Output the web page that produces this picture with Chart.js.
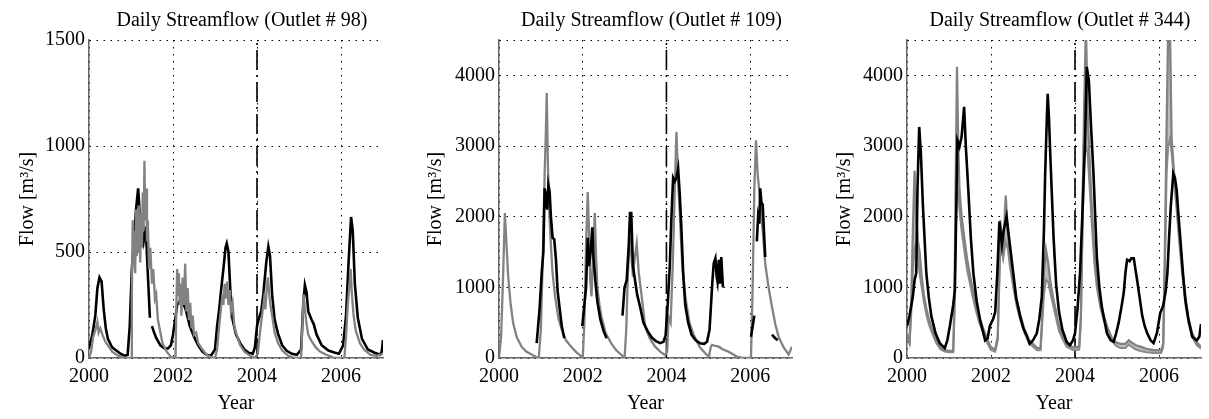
<!DOCTYPE html>
<html>
<head>
<meta charset="utf-8">
<script src="https://cdn.jsdelivr.net/npm/chart.js@4.4.1/dist/chart.umd.min.js"></script>
<style>
  body { margin: 0; background: #fff; }
  #wrap { position: relative; width: 1209px; height: 419px; }
  canvas { position: absolute; top: 0; }
</style>
</head>
<body>
<div id="wrap">
  <canvas id="c98" width="400" height="419" style="left:0px"></canvas>
  <canvas id="c109" width="400" height="419" style="left:400px"></canvas>
  <canvas id="c344" width="409" height="419" style="left:800px"></canvas>
</div>
<script>
// ---- data: [decimal year, flow m3/s], null = gap in record ----
const xTicks = [2000, 2002, 2004, 2006];
const yTicks98 = [0, 500, 1000, 1500];
const yTicks109 = [0, 1000, 2000, 3000, 4000];
const yTicks344 = [0, 1000, 2000, 3000, 4000];
const splitYear = 2004;   // calibration / validation split

// Outlet 98 - observed (black)
const obs98 = [[2000.00,45],[2000.08,110],[2000.15,200],[2000.20,330],[2000.25,380],[2000.30,360],[2000.35,230],
  [2000.40,140],[2000.45,90],[2000.55,50],[2000.65,35],[2000.75,20],[2000.85,10],[2000.92,15],[2000.97,150],
  [2001.02,420],[2001.07,550],[2001.12,700],[2001.17,800],[2001.22,650],[2001.30,550],[2001.35,620],[2001.40,400],
  [2001.45,190],[2001.47,null],[2001.50,150],[2001.55,120],[2001.60,95],[2001.70,60],[2001.80,45],[2001.88,45],
  [2001.95,60],[2002.00,110],[2002.05,180],[2002.10,250],[2002.20,280],[2002.30,230],[2002.40,150],[2002.50,100],
  [2002.60,60],[2002.70,30],[2002.80,15],[2002.90,10],[2003.00,40],[2003.05,150],[2003.10,230],[2003.15,330],
  [2003.20,420],[2003.25,520],[2003.28,540],[2003.32,500],[2003.37,300],[2003.42,180],[2003.50,110],[2003.60,70],
  [2003.70,40],[2003.80,25],[2003.90,20],[2003.95,50],[2004.00,150],[2004.05,190],[2004.10,220],[2004.15,300],
  [2004.22,450],[2004.27,525],[2004.31,480],[2004.36,300],[2004.42,180],[2004.50,115],[2004.60,60],[2004.70,35],
  [2004.83,20],[2004.95,15],[2005.05,40],[2005.10,250],[2005.14,344],[2005.18,310],[2005.22,220],[2005.30,180],
  [2005.35,160],[2005.42,110],[2005.54,60],[2005.70,35],[2005.86,25],[2005.95,20],[2006.05,60],[2006.12,200],
  [2006.18,450],[2006.24,665],[2006.28,600],[2006.33,350],[2006.40,190],[2006.50,90],[2006.64,40],[2006.80,25],
  [2006.93,15],[2006.97,30],[2007.00,85]];

// Outlet 98 - simulated (gray)
const sim98 = [[2000.00,0],[2000.05,30],[2000.10,100],[2000.15,130],[2000.20,170],[2000.23,120],[2000.27,140],
  [2000.32,110],[2000.38,80],[2000.45,60],[2000.55,30],[2000.70,10],[2000.85,2],[2001.00,0],[2001.02,300],
  [2001.04,650],[2001.06,450],[2001.08,600],[2001.10,400],[2001.12,700],[2001.14,480],[2001.16,650],[2001.18,500],
  [2001.20,720],[2001.22,450],[2001.24,680],[2001.26,520],[2001.28,780],[2001.30,600],[2001.32,930],[2001.34,650],
  [2001.36,800],[2001.38,550],[2001.40,650],[2001.43,420],[2001.46,520],[2001.50,350],[2001.53,420],[2001.57,280],
  [2001.60,300],[2001.64,180],[2001.70,120],[2001.75,70],[2001.85,30],[2001.95,5],[2002.06,0],[2002.08,250],
  [2002.10,420],[2002.12,300],[2002.14,400],[2002.16,250],[2002.18,350],[2002.20,200],[2002.23,380],[2002.26,250],
  [2002.29,445],[2002.32,220],[2002.35,330],[2002.38,180],[2002.41,260],[2002.44,140],[2002.47,200],[2002.50,110],
  [2002.55,120],[2002.60,70],[2002.70,40],[2002.80,15],[2002.90,5],[2003.00,0],[2003.05,40],[2003.10,150],
  [2003.14,230],[2003.18,300],[2003.20,250],[2003.23,350],[2003.26,280],[2003.29,360],[2003.32,250],[2003.35,320],
  [2003.38,220],[2003.42,260],[2003.46,150],[2003.50,120],[2003.60,60],[2003.70,30],[2003.80,15],[2003.95,0],
  [2004.02,20],[2004.07,120],[2004.12,200],[2004.17,280],[2004.20,230],[2004.23,330],[2004.26,380],[2004.29,300],
  [2004.32,250],[2004.36,200],[2004.42,120],[2004.50,70],[2004.60,35],[2004.75,10],[2004.90,0],[2005.05,0],
  [2005.08,150],[2005.11,300],[2005.14,230],[2005.18,160],[2005.22,110],[2005.30,80],[2005.40,50],[2005.50,30],
  [2005.65,15],[2005.85,0],[2006.08,0],[2006.12,100],[2006.16,250],[2006.20,340],[2006.23,420],[2006.26,300],
  [2006.30,200],[2006.35,130],[2006.45,70],[2006.55,40],[2006.70,15],[2006.85,10],[2007.00,20]];

// Outlet 109 - observed (black, gappy)
const obs109 = [[2000.90,210],[2000.97,700],[2001.02,1200],[2001.06,1500],[2001.09,2400],[2001.12,2300],[2001.15,2100],
  [2001.18,2450],[2001.21,2350],[2001.24,2000],[2001.28,1700],[2001.32,1680],[2001.36,1400],[2001.40,950],[2001.45,700],
  [2001.50,450],[2001.56,280],[2001.70,null],[2001.99,450],[2002.03,700],[2002.08,1000],[2002.12,1700],[2002.15,1300],
  [2002.19,1500],[2002.23,1850],[2002.26,1400],[2002.30,1100],[2002.35,800],[2002.42,550],[2002.50,380],[2002.57,280],
  [2002.80,null],[2002.95,600],[2003.00,1000],[2003.05,1100],[2003.10,1600],[2003.13,2050],[2003.16,2050],[2003.20,1300],
  [2003.25,1100],[2003.30,900],[2003.38,700],[2003.45,500],[2003.55,380],[2003.65,290],[2003.75,240],[2003.85,210],
  [2003.93,230],[2003.98,320],[2004.03,750],[2004.08,1300],[2004.12,2000],[2004.16,2550],[2004.20,2500],[2004.24,2550],
  [2004.28,2680],[2004.32,2300],[2004.36,1800],[2004.40,1200],[2004.45,750],[2004.52,500],[2004.60,330],[2004.70,250],
  [2004.80,210],[2004.90,200],[2004.97,230],[2005.03,400],[2005.07,800],[2005.10,1100],[2005.13,1340],[2005.17,1410],
  [2005.20,1150],[2005.22,1080],[2005.25,1390],[2005.28,1050],[2005.31,1430],[2005.35,1000],[2005.60,null],
  [2006.02,300],[2006.06,450],[2006.10,600],[2006.13,null],[2006.16,1650],[2006.19,2000],[2006.22,1900],[2006.24,2400],
  [2006.27,2200],[2006.30,2170],[2006.33,1800],[2006.36,1430],[2006.45,null],[2006.52,330],[2006.60,280],[2006.66,250]];

// Outlet 109 - simulated (gray)
const sim109 = [[2000.00,0],[2000.05,300],[2000.10,1200],[2000.14,2050],[2000.18,1600],[2000.22,1150],[2000.28,750],
  [2000.34,490],[2000.42,300],[2000.54,160],[2000.65,90],[2000.78,50],[2000.90,10],[2000.95,0],[2001.00,400],
  [2001.05,1500],[2001.09,2600],[2001.12,3200],[2001.14,3750],[2001.17,2700],[2001.20,2100],[2001.23,1700],
  [2001.28,1200],[2001.34,870],[2001.42,560],[2001.50,400],[2001.60,250],[2001.74,150],[2001.85,80],[2001.95,30],
  [2002.00,0],[2002.04,500],[2002.08,1600],[2002.12,2350],[2002.15,1800],[2002.18,1100],[2002.21,870],[2002.25,1500],
  [2002.29,2050],[2002.32,1400],[2002.35,1000],[2002.40,750],[2002.45,580],[2002.55,350],[2002.69,200],[2002.80,110],
  [2002.93,40],[2003.00,0],[2003.04,400],[2003.08,1200],[2003.13,1716],[2003.17,1400],[2003.20,1150],[2003.24,1400],
  [2003.29,1620],[2003.34,1200],[2003.41,870],[2003.49,450],[2003.60,280],[2003.73,160],[2003.85,90],[2003.97,40],
  [2004.02,100],[2004.05,580],[2004.10,500],[2004.15,1300],[2004.20,2400],[2004.24,3200],[2004.28,2500],[2004.33,1900],
  [2004.38,1300],[2004.45,870],[2004.55,500],[2004.65,330],[2004.80,150],[2004.97,40],[2005.02,30],[2005.06,160],
  [2005.09,185],[2005.17,170],[2005.25,160],[2005.35,120],[2005.48,90],[2005.60,50],[2005.68,20],[2005.80,5],
  [2006.02,0],[2006.06,1000],[2006.10,2400],[2006.14,3080],[2006.18,2600],[2006.24,2235],[2006.30,1800],[2006.36,1340],
  [2006.44,1000],[2006.52,730],[2006.60,480],[2006.68,300],[2006.80,150],[2006.92,50],[2007.00,160]];

// Outlet 344 - observed (black)
const obs344 = [[2000.00,450],[2000.06,600],[2000.14,870],[2000.18,1100],[2000.22,1200],[2000.25,2400],[2000.29,3270],
  [2000.33,2900],[2000.38,2140],[2000.46,1200],[2000.52,850],[2000.58,590],[2000.68,350],[2000.78,210],[2000.90,140],
  [2000.96,250],[2001.02,450],[2001.10,750],[2001.14,960],[2001.17,2000],[2001.20,3080],[2001.25,2990],[2001.30,3130],
  [2001.36,3555],[2001.40,3000],[2001.46,2375],[2001.52,1700],[2001.58,1200],[2001.66,800],[2001.74,540],[2001.86,250],
  [2001.92,280],[2001.97,450],[2002.05,550],[2002.10,650],[2002.15,1200],[2002.20,1930],[2002.26,1600],[2002.30,1800],
  [2002.37,2000],[2002.45,1600],[2002.53,1200],[2002.60,850],[2002.69,600],[2002.77,420],[2002.85,320],[2002.92,200],
  [2003.00,250],[2003.09,350],[2003.15,550],[2003.21,870],[2003.26,1800],[2003.29,2610],[2003.33,3400],[2003.35,3740],
  [2003.38,3400],[2003.41,2900],[2003.45,2300],[2003.49,1700],[2003.55,1050],[2003.62,650],[2003.70,400],[2003.80,230],
  [2003.88,180],[2003.95,250],[2004.00,350],[2004.06,700],[2004.12,1200],[2004.18,2100],[2004.24,3080],[2004.28,4120],
  [2004.33,3930],[2004.38,3300],[2004.44,2610],[2004.52,1430],[2004.58,1000],[2004.64,720],[2004.76,350],[2004.85,250],
  [2004.92,230],[2004.98,350],[2005.04,500],[2005.10,700],[2005.16,920],[2005.20,1200],[2005.24,1390],[2005.30,1370],
  [2005.34,1410],[2005.40,1410],[2005.44,1250],[2005.48,1100],[2005.54,850],[2005.60,600],[2005.66,450],[2005.72,350],
  [2005.80,250],[2005.87,210],[2005.95,350],[2006.03,640],[2006.10,740],[2006.16,950],[2006.20,1200],[2006.24,1700],
  [2006.28,2140],[2006.34,2610],[2006.38,2550],[2006.42,2380],[2006.46,2050],[2006.51,1670],[2006.57,1200],[2006.63,820],
  [2006.70,550],[2006.79,300],[2006.90,250],[2006.96,300],[2007.00,480]];

// Outlet 344 - simulated, upper edge of gray band
const sim344 = [[2000.00,350],[2000.03,250],[2000.06,220],[2000.10,800],[2000.14,1800],[2000.18,2650],[2000.22,2000],
  [2000.26,1650],[2000.30,1500],[2000.35,1150],[2000.40,900],[2000.46,700],[2000.52,550],[2000.60,400],[2000.70,250],
  [2000.80,150],[2000.90,110],[2001.00,100],[2001.10,100],[2001.13,800],[2001.16,2500],[2001.19,4120],[2001.22,3000],
  [2001.25,2375],[2001.30,2000],[2001.37,1670],[2001.43,1400],[2001.49,1200],[2001.57,950],[2001.65,740],[2001.72,580],
  [2001.80,440],[2001.92,250],[2002.00,150],[2002.10,120],[2002.16,300],[2002.20,1300],[2002.22,1950],[2002.26,1700],
  [2002.29,1500],[2002.35,2300],[2002.40,1800],[2002.45,1430],[2002.53,1100],[2002.61,820],[2002.70,600],[2002.80,400],
  [2002.90,260],[2003.00,200],[2003.10,140],[2003.18,140],[2003.22,600],[2003.26,1200],[2003.31,1530],[2003.36,1350],
  [2003.42,1050],[2003.49,820],[2003.55,650],[2003.62,450],[2003.70,320],[2003.80,200],[2003.96,150],[2004.10,160],
  [2004.14,600],[2004.18,2200],[2004.22,3600],[2004.26,4700],[2004.30,3500],[2004.34,2900],[2004.40,2140],[2004.46,1500],
  [2004.52,1100],[2004.60,800],[2004.68,600],[2004.78,420],[2004.88,280],[2004.98,220],[2005.08,200],[2005.20,200],
  [2005.28,250],[2005.32,230],[2005.45,180],[2005.56,160],[2005.70,130],[2005.88,110],[2006.05,110],[2006.10,200],
  [2006.14,1500],[2006.18,3200],[2006.22,4700],[2006.26,4700],[2006.30,3100],[2006.36,2610],[2006.42,2200],[2006.48,1770],
  [2006.55,1300],[2006.63,820],[2006.70,550],[2006.79,350],[2006.90,220],[2007.00,160]];

// Outlet 344 - simulated, lower edge of gray band
const sim344Low = [[2000.00,300],[2000.06,200],[2000.10,600],[2000.14,1200],[2000.18,1550],[2000.22,1620],[2000.26,1400],
  [2000.30,1200],[2000.35,1000],[2000.40,800],[2000.46,620],[2000.52,480],[2000.60,350],[2000.70,210],[2000.80,120],
  [2000.90,90],[2001.00,80],[2001.10,80],[2001.13,600],[2001.16,1800],[2001.19,2400],[2001.22,2350],[2001.25,2100],
  [2001.30,1800],[2001.37,1500],[2001.43,1250],[2001.49,1080],[2001.57,850],[2001.65,650],[2001.72,500],[2001.80,380],
  [2001.92,200],[2002.00,110],[2002.10,90],[2002.16,250],[2002.20,1100],[2002.22,1600],[2002.26,1500],[2002.29,1400],
  [2002.35,1650],[2002.40,1550],[2002.45,1300],[2002.53,1000],[2002.61,740],[2002.70,530],[2002.80,350],[2002.90,220],
  [2003.00,160],[2003.10,110],[2003.18,110],[2003.22,500],[2003.26,900],[2003.31,1100],[2003.36,1080],[2003.42,900],
  [2003.49,720],[2003.55,560],[2003.62,380],[2003.70,270],[2003.80,160],[2003.96,110],[2004.10,120],[2004.14,500],
  [2004.18,1800],[2004.22,2800],[2004.26,3000],[2004.30,2900],[2004.34,2500],[2004.40,1900],[2004.46,1350],[2004.52,1000],
  [2004.60,720],[2004.68,540],[2004.78,380],[2004.88,240],[2004.98,170],[2005.08,140],[2005.20,140],[2005.28,190],
  [2005.32,170],[2005.45,120],[2005.56,100],[2005.70,80],[2005.88,70],[2006.05,70],[2006.10,150],[2006.14,1200],
  [2006.18,2600],[2006.22,3000],[2006.26,3100],[2006.30,2900],[2006.36,2500],[2006.42,2100],[2006.48,1650],[2006.55,1200],
  [2006.63,750],[2006.70,500],[2006.79,300],[2006.90,180],[2007.00,130]];

// ---- panels ----
const FONT = '"Liberation Serif", "Times New Roman", serif';
const panels = [
  { id: 'c98',  outlet: '98',  obs: obs98,  sim: sim98,  simLow: null,      yTicks: yTicks98,  yMax: 1500, left: 89,  rightPad: 17, yTitlePad: 16, simOnTop: true },
  { id: 'c109', outlet: '109', obs: obs109, sim: sim109, simLow: null,      yTicks: yTicks109, yMax: 4500, left: 99,  rightPad: 8,  yTitlePad: 24, simOnTop: false },
  { id: 'c344', outlet: '344', obs: obs344, sim: sim344, simLow: sim344Low, yTicks: yTicks344, yMax: 4500, left: 107, rightPad: 8,  yTitlePad: 33, simOnTop: false }
];

const toPts = arr => arr.map(p => ({ x: p[0], y: p[1] }));

// panel title drawn above the plot area
const titlePlugin = {
  id: 'panelTitle',
  afterDraw(chart, args, opts) {
    const ctx = chart.ctx, ca = chart.chartArea;
    ctx.save();
    ctx.font = '20px ' + FONT;
    ctx.fillStyle = '#000';
    ctx.textAlign = 'center';
    ctx.textBaseline = 'alphabetic';
    ctx.fillText(opts.text, (ca.left + ca.right) / 2 + 6, 26);
    ctx.restore();
  }
};

panels.forEach(p => {
  const obsSet = { data: toPts(p.obs), borderColor: '#000', borderWidth: 2.6, pointRadius: 0, spanGaps: false };
  const simSet = { data: toPts(p.sim), borderColor: '#828282', borderWidth: 2.3, pointRadius: 0 };
  const splitSet = {
    data: [{ x: splitYear, y: 0 }, { x: splitYear, y: p.yMax }],
    borderColor: '#000', borderWidth: 1.6, borderDash: [20, 5, 2, 5], pointRadius: 0
  };
  // first dataset is drawn on top
  let sets;
  if (p.simLow) {
    // band: lower edge filled up to the upper edge (dataset 1)
    const lowSet = { data: toPts(p.simLow), borderColor: '#8a8a8a', borderWidth: 2, pointRadius: 0,
                     fill: 1, backgroundColor: '#bdbdbd' };
    sets = [obsSet, simSet, lowSet, splitSet];
  } else {
    sets = p.simOnTop ? [simSet, obsSet, splitSet] : [obsSet, simSet, splitSet];
  }

  new Chart(document.getElementById(p.id), {
    type: 'line',
    data: { datasets: sets },
    plugins: [titlePlugin],
    options: {
      responsive: false,
      animation: false,
      events: [],
      layout: { padding: { left: 0, right: p.rightPad, top: 40, bottom: 0 } },
      plugins: {
        legend: { display: false },
        tooltip: { enabled: false },
        filler: { propagate: false },
        panelTitle: { text: 'Daily Streamflow (Outlet # ' + p.outlet + ')' }
      },
      scales: {
        x: {
          type: 'linear', min: 2000, max: 2007,
          afterBuildTicks: s => { s.ticks = xTicks.concat([2007]).map(v => ({ value: v })); },
          afterFit: s => { s.height = 61; },
          ticks: {
            autoSkip: false, maxRotation: 0, padding: 7, color: '#000',
            font: { family: FONT, size: 20 },
            callback: v => (xTicks.includes(v) ? String(v) : '')
          },
          grid: {
            drawTicks: false, lineWidth: 1,
            color: c => (c.tick && c.tick.value === 2007 ? 'rgba(0,0,0,0)' : '#000')
          },
          border: { display: true, color: '#666', width: 1.5, dash: [1.5, 5.5] },
          title: { display: true, text: 'Year', color: '#000', font: { family: FONT, size: 20 }, padding: { top: 0, bottom: 3 } }
        },
        y: {
          type: 'linear', min: 0, max: p.yMax,
          // tick values plus a grid line along the top edge
          afterBuildTicks: s => { s.ticks = p.yTicks.concat(p.yTicks.includes(p.yMax) ? [] : [p.yMax]).map(v => ({ value: v })); },
          afterFit: s => { s.width = p.left; },
          ticks: {
            autoSkip: false, padding: 4, color: '#000',
            font: { family: FONT, size: 20 },
            callback: v => (p.yTicks.includes(v) ? String(v) : '')
          },
          grid: { drawTicks: false, lineWidth: 1, color: '#000' },
          border: { display: true, color: '#666', width: 1.5, dash: [1.5, 5.5] },
          title: { display: true, text: 'Flow [m³/s]', color: '#000', font: { family: FONT, size: 20 }, padding: { top: p.yTitlePad, bottom: 0 } }
        }
      }
    }
  });
});
</script>
</body>
</html>
